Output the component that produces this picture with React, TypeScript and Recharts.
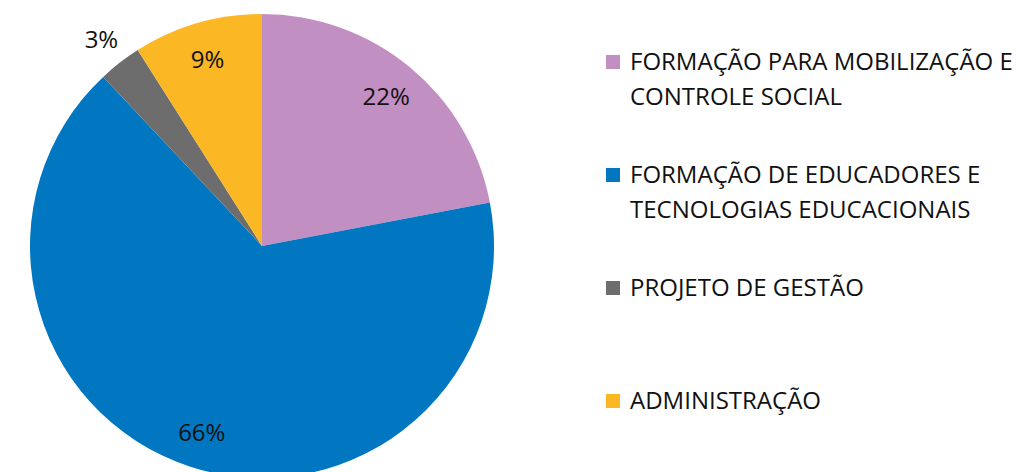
import React from 'react';
import { PieChart, Pie, Cell, Legend } from 'recharts';

const categories = [
  'FORMAÇÃO PARA MOBILIZAÇÃO E CONTROLE SOCIAL',
  'FORMAÇÃO DE EDUCADORES E TECNOLOGIAS EDUCACIONAIS',
  'PROJETO DE GESTÃO',
  'ADMINISTRAÇÃO',
];
const values = [22, 66, 3, 9];
const colors = ['#C28FC2', '#0077C0', '#6D6D6D', '#FBB724'];

const data = categories.map((name, i) => ({ name, value: values[i] }));

const FONT = '"Open Sans", sans-serif';
const RAD = Math.PI / 180;

const renderLabel = (props: any) => {
  const { cx, cy, midAngle, outerRadius, percent } = props;
  const outside = percent < 0.05;
  const r = outside ? outerRadius + 30 : outerRadius * 0.84;
  const x = cx + r * Math.cos(-midAngle * RAD);
  const y = cy + r * Math.sin(-midAngle * RAD);
  return (
    <text
      x={x}
      y={y}
      textAnchor="middle"
      dominantBaseline="central"
      fill="#111"
      fontFamily={FONT}
      fontSize={24}
    >
      {`${Math.round(percent * 100)}%`}
    </text>
  );
};

const LegendContent = (props: any) => {
  const payload = [...(props.payload || [])].sort(
    (a: any, b: any) => categories.indexOf(a.value) - categories.indexOf(b.value)
  );
  return (
    <div style={{ fontFamily: FONT, fontSize: 24, color: '#111' }}>
      {payload.map((p: any, i: number) => (
        <div key={i} style={{ height: 113, display: 'flex', alignItems: 'flex-start' }}>
          <div
            style={{
              width: 14,
              height: 14,
              background: p.color,
              marginTop: 12,
              marginRight: 10,
              flex: 'none',
            }}
          />
          <div style={{ lineHeight: '35px', width: 396 }}>{p.value}</div>
        </div>
      ))}
    </div>
  );
};

export default function App() {
  return (
    <div style={{ position: 'absolute', left: 0, top: 0, width: 1026, height: 472, background: '#fff', overflow: 'hidden' }}>
      <PieChart width={1026} height={472}>
        <Pie
          data={data}
          dataKey="value"
          nameKey="name"
          cx={257}
          cy={241}
          outerRadius={232}
          startAngle={90}
          endAngle={-270}
          stroke="none"
          label={renderLabel}
          labelLine={false}
          isAnimationActive={false}
        >
          {data.map((d, i) => (
            <Cell key={i} fill={colors[i]} />
          ))}
        </Pie>
        <Legend
          layout="vertical"
          align="right"
          verticalAlign="top"
          content={<LegendContent />}
          wrapperStyle={{ left: 606, top: 43, width: 420 }}
        />
      </PieChart>
    </div>
  );
}
